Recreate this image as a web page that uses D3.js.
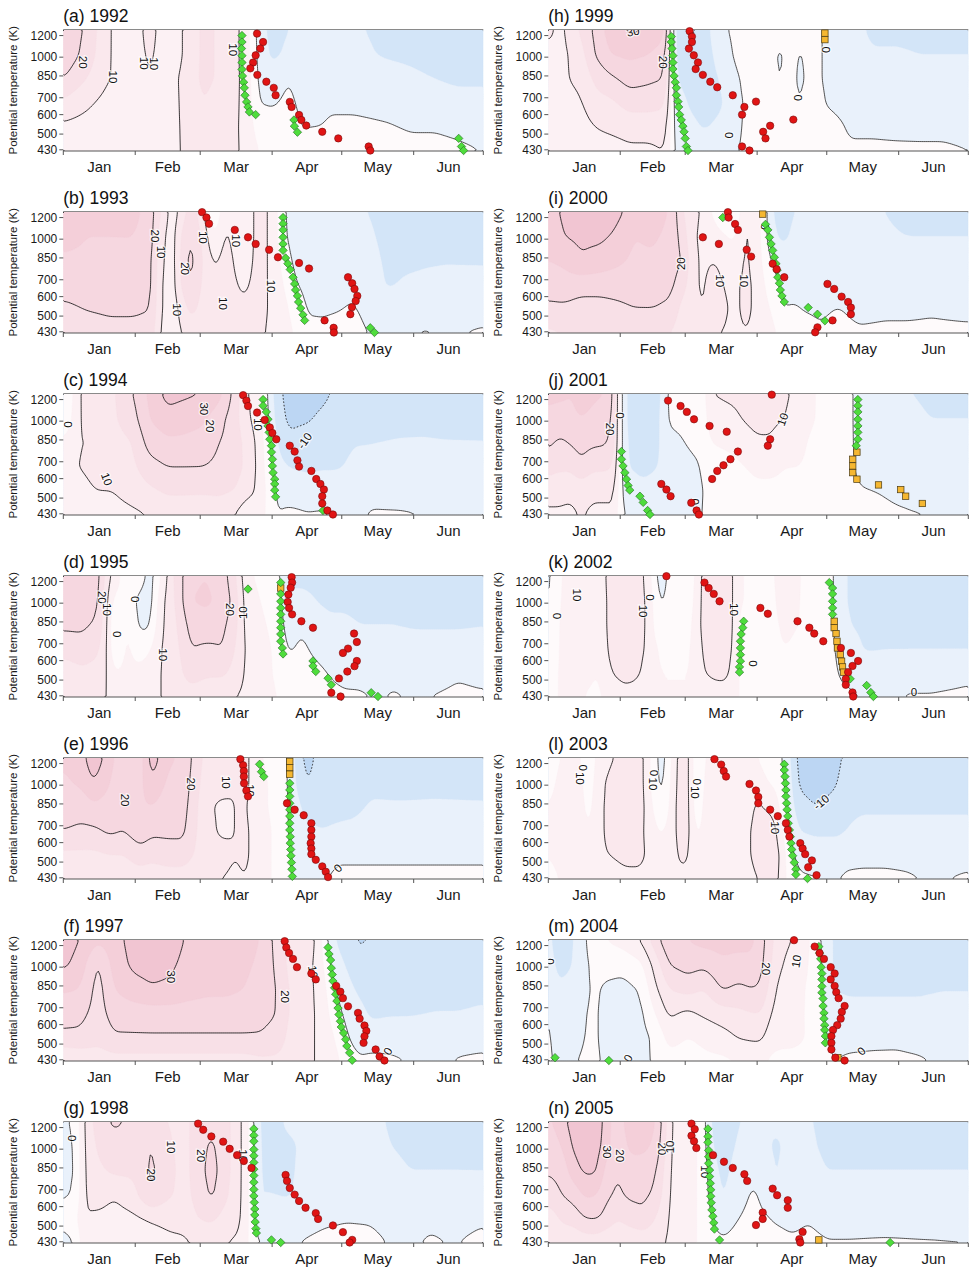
<!DOCTYPE html>
<html>
<head>
<meta charset="utf-8">
<script src="https://cdn.jsdelivr.net/npm/d3@7"></script>
<style>
  body { margin: 0; background: #fff; }
  svg text { font-family: "Liberation Sans", Arial, Helvetica, sans-serif; }
</style>
</head>
<body>
<svg id="chart" width="974" height="1273"></svg>
<script>
// ---------- shared axes ----------
const years = [1992, 1993, 1994, 1995, 1996, 1997, 1998, 1999, 2000, 2001, 2002, 2003, 2004, 2005];
const panelLetters = ["a", "b", "c", "d", "e", "f", "g", "h", "i", "j", "k", "l", "m", "n"];
const monthNames = ["Jan", "Feb", "Mar", "Apr", "May", "Jun"];
const monthStarts = [0, 31, 59, 90, 120, 151, 181];          // day of year
const thetaTicks = [430, 500, 600, 700, 850, 1000, 1200];     // K
const thetaRows = [1262, 1020, 830, 668, 537, 425];           // field rows, top to bottom
const fillLevels = [-10, -5, 0, 5, 10, 15, 20, 25, 30, 35];
const fillColors = ["#bcd6f3", "#d3e5f8", "#e9f1fb", "#fefafb", "#fcf1f4", "#fae8ed",
                    "#f8e0e7", "#f6d7e0", "#f4cfd9", "#f1c5d2", "#eebbca"];
const lineLevels = [-10, 0, 10, 20, 30];

// ---------- 1992 ----------
// field columns: [day, value at each of thetaRows]
const field1992 = [
  [0, 25,24,20,14,9,7], [10, 19,18,15,11,8,7], [20, 10,10,10,8,7,8], [30, 7,7,7,6,6,6],
  [37, 12,11,10,8,7,7], [43, 8,8,8,7,7,7], [50, 9,9,10,10,10,10], [60, 16,16,16,15,13,12],
  [70, 14,14,14,13,12,12], [76, 10,10,10,10,10,10], [80, 6,6,7,7,7,8], [84, -2,-1.5,-1,0,3,5],
  [90, -7,-6,-3,-0.5,2,3], [97, -5,-4,0,1,2,3], [103, -4,-4,-2,-1,-0.2,2], [111, -4,-4,-3,-1,0,2],
  [115, -4,-4,-2,-0.5,0.5,2], [125, -4.5,-4,-3,-1,1,2], [140, -6,-5.5,-3,-1.5,0.3,2],
  [150, -7,-6,-4,-2,-0.5,1.5], [160, -7,-7,-5,-2.5,-0.5,1.5], [170, -7,-7,-6,-3,-1,0.8],
  [180, -7,-7,-6,-3,-1.5,0]
];
const circles1992 = [[83.5,1220],[86.1,1137],[84.9,1076],[82.9,1016],[81.8,955],[80.6,908],[83.6,858],[87.5,808],[90.7,765],[91.5,716],[97.6,674],[98.4,644],[101.6,598],[102.6,571],[104.7,542],[111.6,511],[118.5,480],[131.6,444],[132.3,427]];
const diamonds1992 = [[77,1200],[77,1137],[76.8,1076],[77,1013],[77,955],[77,900],[77.2,850],[77.7,804],[78,765],[78.3,716],[79,674],[79.6,644],[80.2,615],[82.9,600],[99.4,571],[99.6,539],[100.9,509],[170.4,480],[171.6,444],[172.5,427]];
const squares1992 = [];
const labels1992 = [[8.6,958,"20",90],[21.5,843,"10",90],[34.7,950,"10",90],[39,945,"10",90],[73.2,1066,"10",90]];

// ---------- 1993 ----------
const field1993 = [
  [0, 30,27,24,22,19,16], [10, 26,25,24,22,20.3,17], [20, 26,25,24,23,21,18], [30, 27,25,24,23,21,18],
  [38, 22,22,21,21,20,18], [42, 15,12,11,10,10,9], [47, 7,7,7,7,7,7], [51, 12,16,17,16,12,10],
  [55, 18,21,22,21,17,12], [60, 12,14,15,14,13,11], [65, -1,5,9,11,11,10], [70, 10,11,12,12,12,11],
  [78, 6,6,7,9,11,12], [84, 12,12,12,12,12,11], [90, 9,9,9,9,9,9], [94, 2,2,4,6,8,9],
  [99, -3,-2,-0.7,0.6,3,5], [105, -4,-3,-2,-1,-0.3,0.8], [112, -4,-3,-2,-1,-0.3,0.5],
  [118, -4,-3,-2,-1,-0.2,1], [125, -4,-3,-2,-0.6,0.3,1.5], [131, -5,-4,-3,-2,-1,0],
  [140, -7,-6.5,-6,-5.5,-2,-1], [150, -7,-6.5,-6,-4,-2,-0.3], [155, -7,-6.5,-5.5,-4,-1.5,0.3],
  [165, -7,-6.5,-5.3,-3.5,-1.5,-0.2], [180, -7,-6.5,-5.5,-3,-1,0.3]
];
const circles1993 = [[59.8,1255],[61.7,1200],[62.8,1140],[73.9,1082],[79.6,1016],[82.9,960],[88.7,913],[92.5,855],[101.6,813],[105.9,774],[122.7,716],[124.5,678],[125.5,644],[126.7,604],[126,576],[124.4,544],[123.7,509],[112.6,480],[116.5,447],[116.6,427]];
const diamonds1993 = [[94.7,1200],[94.7,1140],[94.7,1082],[94.7,1016],[94.7,960],[94.7,908],[95.8,850],[96.8,808],[97.8,767],[99,716],[99.7,674],[100.1,638],[100.9,604],[101.4,571],[102.3,539],[103.3,506],[104,480],[132.3,447],[134.1,427]];
const squares1993 = [];
const labels1993 = [[39.5,1028,"20",90],[42.3,895,"10",90],[52.4,774,"20",90],[60.3,1016,"10",90],[74.6,987,"10",90],[68.9,563,"10",90],[48.8,531,"10",90],[89.7,661,"10",90]];

// ---------- 1994 ----------
const field1994 = [
  [0, -2,0,6,9,8,6], [7, 10,10,10,10,8,6], [14, 14,13,10,12,10,7], [21, 14,14,13,13,10,8],
  [30, 20,18,15,14,12,9], [37, 26,25,22,18,14,10], [45, 32,28,24,20,16,11], [52, 31,27,24,20,16,11],
  [60, 30,26,23,20,16,10], [67, 27,22,20,19,16,12], [74, 18,17,18,17,15,10], [79, 10,11,13,14,12,6],
  [84, 8,8,9,9,9,8], [88, 0,1,2,3,4,4], [92, -8,-7,-5,-3,-1,0], [97, -12,-11,-9,-5,-2,1],
  [105, -12,-10.5,-8,-6,-2,0.3], [112, -11,-9,-8,-5.5,-2,0.5], [118, -9,-8,-7,-5.5,-2,-0.5],
  [125, -9,-8,-5.2,-4,-2,-1], [133, -9,-8,-5,-4,-1.5,0.5], [145, -9,-7,-4.5,-3.5,-2,0.5],
  [155, -9,-6.5,-4.5,-3.5,-1.5,0], [165, -9,-7,-4.7,-3.5,-1.5,-0.5], [180, -9,-7,-4.8,-3.5,-1.5,0]
];
const circles1994 = [[77.5,1245],[78.9,1190],[79.6,1137],[83.5,1076],[86.8,1010],[89,947],[90.1,903],[91.8,855],[97.6,808],[99.7,767],[100.9,709],[101.6,670],[106.9,644],[109,598],[110.8,571],[112.3,542],[111.6,509],[111.6,475],[113.8,444],[116.2,427]];
const diamonds1994 = [[86.1,1200],[86.1,1140],[87.5,1082],[88.2,1016],[88.2,960],[88.7,908],[89,855],[89.7,808],[89.7,763],[90.1,716],[90.1,674],[90.4,634],[91.1,597],[91.1,571],[91.1,539],[91.5,506],[111.9,444]];
const squares1994 = [];
const labels1994 = [[2.2,973,"0",90],[18.7,597,"10",70],[60.5,1111,"30",90],[63.4,960,"20",90],[83.9,973,"10",90],[104,843,"-10",-55]];

// ---------- 1995 ----------
const field1995 = [
  [0, 22,22,21,17,12,10], [8, 24,23,21,18,14,11], [15, 22,21,19,16,13,11], [19, 12,10,10,10,10,10],
  [22, 8,3,-1,0,5,8], [27, 2,5,6,6,6,7], [33, 4,-2,-1,3,6,7], [37, -3,-3,-1,4,8,9],
  [42, 5,8,9,10,10,10], [48, 16,15,14,13,12,11], [55, 24,25,22,20,18,12], [62, 25,26,23,19,16,11],
  [69, 22,23,21,20,16,11], [74, 16,18,17,15,13,10], [79, 6,7,8,9,9,9], [85, 4,5,6,7,8,8],
  [90, 2,3,4,5,5,6], [94, 0,0.5,1,2,3,4], [97, -6,-4,-2,-0.5,2,4], [103, -6,-4,-0.5,0.8,2,3],
  [109, -6,-5,-3,-1,1,2], [115, -7,-6,-4,-2,-0.3,1], [121, -7,-6,-4,-2.5,-1,0.5],
  [128, -7,-6.5,-5,-3,-1,0.4], [136, -7,-6.5,-5,-3,-1.5,-0.3], [142, -7,-6.5,-5,-3,-1,0.4],
  [152, -7,-6.5,-5.5,-3,-1.5,-0.4], [160, -7,-6.5,-5.5,-3,-1.5,0.2], [170, -7,-6.5,-5.5,-3,-0.5,0.8],
  [180, -7,-6.5,-5.2,-3,-1,0.5]
];
const circles1995 = [[98.4,1245],[98.6,1190],[98,1140],[97,1076],[96.7,1010],[97.3,960],[98.6,908],[102.6,855],[107.6,808],[125.3,767],[126.5,711],[122.7,670],[120.5,644],[126.5,598],[125.5,570],[122.4,542],[118.8,508],[115.5,443],[119.5,427]];
const diamonds1995 = [[79.6,1127],[93.7,1190],[93.7,1082],[93.7,1016],[93.7,960],[93.7,908],[93.7,855],[93.7,808],[93.7,763],[93.7,716],[94.4,674],[94.7,638],[107.6,598],[107.6,571],[108.8,542],[114.1,509],[115.5,478],[132.7,443],[135.6,427]];
const squares1995 = [[93.7,1137]];
const labels1995 = [[16.5,1051,"20",90],[18.9,947,"10",90],[23,763,"0",90],[30.8,1035,"0",90],[43,634,"10",90],[71.7,947,"20",90],[77.5,921,"10",-90]];

// ---------- 1996 ----------
const field1996 = [
  [0, 26,24,22,20,14,11], [8, 28,26,22,19,14,11], [13, 34,30,24,19,14,11], [20, 27,25,23,21,15,11],
  [26, 21,21,21,20,15,11], [33, 22,23,24,23,18,12], [38, 33,30,25,21,17,11], [45, 26,24,22,21,18,12],
  [52, 24,23,22,21,18,12], [56, 19,18,17,16,15,11], [62, 13,12,11,12,12,10], [68, 12,12,9,9,12,10],
  [74, 10,10,10,10,10,9], [78, 13,12,11,11,11,10], [82, 7,8,8,9,9,9], [88, 4,5,5,6,6,6],
  [93, 2,3,3,3,3,3], [97, 0,0,0,0,0.3,0.5], [100, -6,-5,-3,-2,-1,-0.5], [105, -12,-10.5,-7,-4,-2,-1],
  [111, -8,-7,-6,-5,-2,-0.5], [118, -8,-7,-6,-4.5,-0.6,0.8], [125, -8,-7,-6,-4,-0.6,0.8],
  [133, -8,-6,-4.5,-3,-0.6,0.8], [145, -8,-6.5,-4.5,-3,-0.6,0.8], [160, -8,-6,-4.5,-3,-0.6,0.8],
  [180, -8,-6.5,-4.5,-3,-0.6,0.8]
];
const circles1996 = [[76.3,1245],[77.5,1184],[77.8,1127],[77.8,1076],[77.9,1016],[78.9,955],[79.6,908],[96.4,855],[99.7,808],[103.6,769],[106.9,716],[106.9,674],[106.9,634],[106.6,597],[106.9,568],[106.9,539],[108.8,511],[111.6,480],[113.1,456],[114.1,433]];
const diamonds1996 = [[84.6,1193],[85.4,1121],[86.4,1076],[97.6,1016],[97.6,960],[97.6,908],[97.6,855],[97.6,808],[97.6,763],[97.6,716],[97.6,674],[97.8,634],[97.8,597],[98,563],[98.1,531],[98.3,498],[98.5,467],[98.7,436]];
const squares1996 = [[97.6,1222],[97.6,1160],[97.6,1098]];
const labels1996 = [[26.5,879,"20",90],[55,1010,"20",90],[70.3,1025,"10",90],[80.3,955,"10",90],[118.4,472,"0",-45]];

// ---------- 1997 ----------
const field1997 = [
  [0, 33,31,26,21,19.5,9], [7, 30,28,25,21.5,19,11], [15, 26,19,18,18,17,12], [22, 28,27,25,22,19.5,13],
  [30, 32,31,28,22.5,19.5,13], [38, 33,32,29.5,23,19.5,13], [46, 33,31,29,23,19.5,13],
  [54, 29,28,27,23,19.5,13], [62, 28,27,26,23,19.5,13], [70, 27,27,26,23,19.5,13],
  [78, 27,26,25,23,19.5,13], [85, 25,24,23,22,19.5,14], [92, 18,19,20,20,18,14],
  [97, 14,14,15,15,14,13], [103, 13,12,12,12,12,12], [108, 11,10,10,10,10,10], [112, 4,6,8,9,9,9],
  [114, -0.5,1,3,5,7,8], [118, -6,-3,-0.5,1.5,4,6], [123, -8,-6,-4,-2,-0.2,2],
  [128, -11,-8,-6,-4,-2,0.5], [133, -9,-8,-6.5,-5.8,-3,1.5], [140, -8,-7.5,-6.5,-5.5,-2.5,1],
  [150, -8,-7.5,-6.5,-5.5,-2,-0.3], [160, -8,-7.5,-6,-5,-1.5,-0.5], [170, -8,-7.5,-6,-5,-1,0.2],
  [180, -8,-7,-6,-4.5,-1,0.5]
];
const circles1997 = [[95.4,1245],[96.1,1181],[97.3,1127],[99,1073],[100.7,1000],[106.9,947],[108.8,900],[117.6,850],[119.4,808],[120.5,763],[122.7,709],[127,668],[127.7,634],[129.8,595],[130.6,566],[129.8,538],[129.4,506],[134.6,475],[136.3,444],[138.4,427]];
const diamonds1997 = [[114.1,1181],[114.5,1118],[115.2,1063],[115.5,992],[115.9,939],[116.2,887],[116.9,836],[117.4,790],[117.9,744],[118.4,698],[118.8,658],[119.4,619],[119.8,587],[120.8,555],[121.7,523],[122.2,491],[123.4,460],[124.5,428]];
const squares1997 = [];
const labels1997 = [[46.6,921,"30",90],[95.4,774,"20",90],[107.6,960,"10",80],[139.9,467,"0",-60]];

// ---------- 1998 ----------
const field1998 = [
  [0, -1,-1.5,-1,-0.3,0.5,-1], [5, 1,0,-0.5,0.3,3,-0.3], [9, 10,10,10,10,10,9],
  [15, 18,16,14,12,9,8], [22, 21,18,16,10.5,8,7], [30, 19,17,16,13,9,8], [38, 16,20.5,21,20.5,10.5,8],
  [45, 15,16,17,16,11,9], [52, 13,13,13,13,12,9], [58, 18,18,18,17,15,11], [64, 19,21,22,21,16,11],
  [70, 17,17,17,16,13,10], [77, 10,10,10,10,10,9], [81, 3,3,3,3,3,3], [84, -5,-5,-5,-5,-3,0],
  [90, -7,-6,-5.5,-5,-2,-0.5], [97, -4,-6,-6,-5.5,-1.5,-0.3], [104, -4,-4,-3.5,-3,-1,0.2],
  [113, -4,-4,-3.5,-3,-0.5,0.8], [122, -4,-4,-3.5,-3,-0.2,1], [132, -4,-4,-4,-3,-0.3,0.8],
  [142, -5.5,-5,-4,-3,-1,-0.3], [150, -7,-6,-5,-3,-1.5,-0.5], [158, -7,-6,-5,-3,-0.8,0.5],
  [168, -7,-6,-5,-3,-1,-0.2], [180, -7,-6.5,-5,-3,-0.5,0.8]
];
const circles1998 = [[58.1,1240],[60.3,1178],[63.8,1114],[68.9,1066],[71.7,1003],[74.9,950],[77.8,903],[81.1,850],[95.8,799],[96.4,758],[97.6,711],[99.7,670],[101.6,632],[104.4,594],[108.8,565],[109.8,535],[116.2,503],[120.5,472],[124.5,438],[123.4,427]];
const diamonds1998 = [[82.1,1187],[82.1,1124],[82.1,1070],[82.1,997],[82.1,945],[82.1,892],[82.1,841],[82.1,795],[82.1,749],[82.1,702],[82.1,662],[82.3,624],[82.5,587],[82.5,555],[82.7,520],[83,488],[83.2,468],[89.7,438],[93.7,427]];
const squares1998 = [];
const labels1998 = [[3.6,1098,"0",90],[46.6,1019,"10",90],[38,799,"20",90],[59.5,945,"20",90],[77.5,945,"10",90]];

// ---------- 1999 ----------
const field1999 = [
  [0, 11,9,8,7,6,6], [5, 9,9,9,8,7,6], [9, 11,10,10,9,8,7], [14, 16,13,11,9.5,8,7],
  [20, 21,20,16,13,10,8], [27, 28,25,19,14,11,8], [35, 31,26,22,17,12,9], [43, 30,25,21,17,12,9],
  [50, 27,22,20,16,12,10], [52, 18,15,13,11,9,8], [54, -6,-5,-4,-3,-2,-1], [58, -9,-8,-6,-4,-3,-2],
  [62, -11,-10.5,-7,-6,-4,-2], [67, -7,-7,-7,-6.5,-5.5,-2], [75, -1,-3,-4.5,-5.5,-4,-1],
  [80, 1,0.5,-1,-1.5,-1,-0.3], [85, 2,2,1,0.5,0.5,0.5], [95, 1,1,1,1,1,1], [100, 1,-0.5,-0.3,1,1,1],
  [104, 1,1,1,1,1,1], [108, 1,-0.3,-0.5,-0.2,1,1], [115, 1,1,1,1.5,1,1], [121, -1,-1,-1,-0.5,1.5,1.5],
  [130, -3,-3,-2,-1.5,-0.5,0.5], [140, -6,-4.5,-3,-2,-0.5,0.5], [150, -6,-4.5,-3,-2,-0.7,0.5],
  [160, -6,-5,-3.5,-2,-0.8,0.5], [170, -6,-5,-3.5,-2,-0.8,0.5], [180, -6,-5,-3.5,-2,-1,0.1]
];
const circles1999 = [[60.9,1245],[61.9,1190],[61.9,1137],[60.6,1076],[62.7,1016],[64.5,955],[63.5,903],[66.6,858],[69.8,808],[72.8,769],[79.5,716],[84.5,644],[83.5,600],[89.5,676],[95.6,541],[92.6,511],[93.6,480],[105.6,573],[83.5,444],[86.7,427]];
const diamonds1999 = [[53,1190],[53,1137],[53.3,1076],[53.7,1013],[53.7,955],[53.7,903],[54.2,850],[54.7,804],[55.2,765],[55.2,716],[55.9,676],[56.2,644],[56.6,600],[57.3,571],[58,539],[58.5,511],[59,480],[59.5,444],[60.2,427]];
const squares1999 = [[119.2,1225],[119.2,1160]];
const labels1999 = [[36.5,1240,"30",-10],[49.4,958,"20",90],[78,495,"0",90],[107.4,700,"0",90],[119.6,1066,"0",90]];

// ---------- 2000 ----------
const field2000 = [
  [0, 28,27,25,22,19,14], [7, 31,30,26,23,19,15], [14, 34,31,29.5,22,18,15], [22, 33,31,28,22,18,15],
  [30, 31,29,26,22,19,15], [37, 28,25,24,22,20,15], [45, 29,26,24,22,20,16], [53, 24,23,22,21,19,15],
  [58, 15,18,20,17,13,11], [62, 11,11,12,12,11,10], [66, 10,9,9,9,10,10], [71, 4,8,10,12,11,10],
  [75, 0,6,9,10,11,10], [80, -1,4,7,9,9,9], [85, 10,11,11,11,11,10], [90, 8,8,8,9,9,9],
  [94, 1,0,2,4,6,8], [97, -6,-4,-1,2,4,6], [101, -7,-6,-3,-1,0,3], [106, -5,-4,-2,-1,0.3,2],
  [111, -4,-3.5,-2,-1,-0.3,1.5], [117, -4,-3.5,-2.5,-1.5,-0.5,0.4], [125, -4,-4,-3,-1.5,0.1,1],
  [134, -4.5,-4,-3,-2,-0.8,0.4], [145, -5,-4.5,-3,-2,-0.5,0.5], [155, -6,-5,-3.5,-2,-0.5,0.5],
  [165, -6,-5,-3.5,-2,-0.3,0.5], [180, -6,-5,-3.5,-2,-0.6,0.5]
];
const circles2000 = [[77.4,1255],[77.7,1200],[80.5,1137],[81.7,1082],[66.6,1016],[73.5,960],[85.5,913],[87.4,860],[96.7,808],[98.4,769],[101.7,716],[120.3,674],[123.2,644],[126.4,600],[129.2,571],[130.4,542],[130.4,509],[122.5,480],[116,449],[115,428]];
const diamonds2000 = [[75.2,1200],[93.6,1134],[94.6,1082],[95.3,1016],[96,960],[96.7,908],[97.4,855],[98.1,808],[98.6,763],[98.9,716],[99.6,678],[100,638],[100.7,604],[101.7,571],[112,542],[116,509],[119.2,478]];
const squares2000 = [[92.4,1235]];
const labels2000 = [[57.3,808,"20",-90],[73.8,694,"10",90],[84.5,694,"10",90],[93.6,1111,"0",90]];

// ---------- 2001 ----------
const field2001 = [
  [0, 26,24,21,17,12,9], [5, 26,23,19,16,11,9.5], [10, 25,24,20.5,16,11,9], [14, 27,25,22,19,12,10.5],
  [19, 26,24,21,16,11,9], [25, 25,22,20.5,16,11,9], [29, 18,18,17,14,11,9], [31, 0,0,0,0,0,0],
  [34, -6,-6,-5.5,-5,-2,0], [40, -7,-7,-6.5,-6,-4,-1], [47, -8,-7,-6.5,-5,-4,-1],
  [51, 0.5,0.2,-1,-4,-4,-2], [57, 2,1,-0.5,-3,-3,-1.5], [62, 2,1.5,1,-1,-2,-1], [66, 1,1,1,0.2,-0.5,-0.3],
  [70, 10,8,5,3,2,2], [80, 11,9,6,4,3,2], [90, 13,12,9,6,4,3], [96, 13,11,9.5,6,4,3],
  [102, 11,10,7,5,4,3], [108, 8,7,6,5,4,3], [115, 5,5,4,4,3,3], [122, 3,3,3,3,3,3], [127, 2,2,2,2,2,2],
  [131, 0.5,0.5,0.5,0.5,1,1.5], [135, -3,-3,-2.5,-1.5,0.3,1], [142, -4,-3.5,-3,-2,-0.1,1],
  [150, -5,-4,-3,-2,-0.7,0.5], [157, -5,-4,-3,-2,-1,0.2], [165, -6,-5,-3.5,-2.5,-1,0], [180, -6,-5,-3.5,-2.5,-1,0.1]
];
const circles2001 = [[51.6,1190],[57,1137],[59.7,1082],[62.8,1016],[69.5,960],[76.9,913],[81.7,767],[78.5,716],[75.5,678],[72.8,644],[70.6,598],[48.7,571],[50.9,542],[52.7,509],[61.6,478],[63.9,444],[64.9,427],[96.3,1250],[95.6,855],[94.6,808]];
const diamonds2001 = [[31.5,767],[31.5,716],[32.2,674],[33,634],[33.7,597],[34.4,563],[35.1,539],[39.5,509],[40.9,480],[42.8,444],[43.8,427],[133.4,1200],[133.4,1140],[133.4,1082],[133.4,1016],[133.4,960],[133.4,908],[133.4,855],[132.7,808]];
const squares2001 = [[133,763],[131.2,716],[131.2,674],[131.2,634],[133,597],[142.3,566],[151.9,542],[154,509],[161.2,475]];
const labels2001 = [[26.5,934,"20",90],[30.8,1051,"0",90],[101,1016,"10",-70],[63.3,483,"0",90]];

// ---------- 2002 ----------
const field2002 = [
  [0, -1,-1,-0.5,1,3,4], [5, 3,4,5,5,5,5], [9, 10,10,10,10,10,8], [15, 6,7,7,7,6,5],
  [22, 5,5,5,5,5,4], [27, 14,13,13,12,10,8], [33, 15,14,14,13,11,9], [38, 13,13,13,12,11,8],
  [43, 8,9,9,9,8,6], [48, -3,-1,0.5,4,5,5], [53, 2,2,3,4,5,5], [57, -0.5,-0.5,1,4,5,5],
  [62, 3,4,5,5,5,5], [67, 12,12,12,11,10,7], [72, 14,14,14,13,11,8], [77, 13,13,13,12,11,8],
  [81, 8,8,8,8,7,6], [85, 4,4,-0.5,-0.5,1,3], [90, 3,3,2,1,2,3], [97, 4,4,4,4,4,3],
  [102, 10.5,8,6,5,4,3], [108, 5,5,5,4,4,3], [116, 3,3,3,3,3,3], [122, 1,1,1,1,1.5,2],
  [125, -2,-2,-1.5,-1,-0.3,1], [130, -6,-6,-5,-3,-1,0.5], [137, -7,-7,-6,-5.5,-1.5,-0.3],
  [145, -7,-7,-6,-5.2,-1.5,-0.5], [155, -7,-7,-6,-5.2,-1,0.2], [165, -7,-7,-6,-5.2,-1,0.2],
  [180, -7,-7,-6,-5.2,-0.5,0.4]
];
const circles2002 = [[50.9,1255],[67.3,1190],[69.1,1137],[71.3,1082],[73.8,1016],[91.4,960],[94.6,913],[107.4,855],[112.5,808],[114.6,767],[118.5,716],[126.1,674],[130.4,644],[133.5,598],[131.1,571],[129.2,539],[128.2,506],[128.2,478],[131.1,444],[131.4,427]];
const diamonds2002 = [[84.2,855],[83.8,808],[83.1,763],[82.8,716],[82.8,674],[82.8,634],[82.8,597],[82.4,566],[82.4,539],[121.1,1190],[122.5,1137],[122.5,1082],[122.5,1016],[122.5,960],[122.5,908],[130.1,506],[137.2,475],[139,444],[140.1,427]];
const squares2002 = [[123.2,855],[123.2,808],[124,767],[124.4,716],[124.6,674],[125.8,634],[126.4,597],[126.8,566],[127.2,539]];
const labels2002 = [[3.6,895,"0",90],[12.2,1073,"10",90],[40.8,934,"10",90],[43.7,1051,"0",90],[80.2,947,"10",90],[88.1,585,"0",90],[157.6,444,"0",0]];

// ---------- 2003 ----------
const field2003 = [
  [0, -0.5,2,5,5,5,3], [5, 5,7,8,8,7,5], [10, 8,9,10,9,8,10], [14, 6,8,9,9,9,9], [17, -3,-1,1,5,8,9],
  [20, 6,7,8,8,9,9], [26, 9,11,11,11,10,8], [33, 12,13,13,12,11,9], [40, 12,12,12,11,11,9],
  [45, 3,3,5,7,8,8], [49, -3,-2,-0.5,4,7,8], [53, 5,6,7,8,8,9], [57, 13,13,13,12,11,9],
  [61, 11,11,11,11,10,9], [64, -2,-2,-0.5,3,6,8], [67, 5,6,7,7,7,7], [72, 7,8,8,8,8,7],
  [80, 6,7,8,8,8,7], [86, 8,8,8,9,9,8], [90, 5,7,11,12,12,10], [95, 3,5,9,13,13,11],
  [98, 2,4,8,11,12,11], [100, 1,2,4,7,10,10], [104, -4,-3,-2,0,1,2], [108, -12,-11,-8,-5,-1,0.5],
  [115, -13,-12,-10,-6,-2,0.3], [121, -12,-11,-9,-6,-2,-0.3], [125, -11,-10,-8.5,-6,-2,0],
  [128, -9,-8,-6,-5,-1,0.5], [135, -8,-7,-5.5,-4,-1,0.8], [145, -8,-7,-5.5,-4,-1,0.8],
  [155, -8,-7,-5.5,-4,-1,0.4], [165, -8,-7,-5.5,-4,-1.5,-0.3], [180, -8,-7,-5.5,-4,-1,0.4]
];
const circles2003 = [[71.6,1245],[74.5,1190],[75.6,1127],[76.6,1076],[86.7,1010],[89.5,955],[90.5,903],[90.5,855],[95.6,808],[98.9,763],[102.4,716],[103.2,674],[103.9,634],[108.6,597],[109.6,568],[110.7,539],[113.6,508],[112,476],[115.6,441]];
const diamonds2003 = [[101.7,1193],[101.7,1137],[102,1076],[102.2,1016],[102.4,960],[102.4,908],[102.7,855],[102.9,808],[103.2,763],[103.4,716],[103.9,674],[104.3,634],[104.6,597],[104.9,563],[105.3,531],[106,498],[106.7,467],[106.7,444],[111.7,427]];
const squares2003 = [];
const labels2003 = [[13.6,1060,"10",90],[14.8,1160,"0",90],[45.2,1010,"10",90],[45.5,1110,"0",90],[63.4,940,"10",90],[64.1,1030,"0",90],[97.6,688,"10",90],[117.6,863,"-10",-40]];

// ---------- 2004 ----------
const field2004 = [
  [0, -1,-0.5,0,0.5,0.5,0.5], [4, -10.5,-7,-4,-2,-1,-0.5], [10, -5.5,-5.2,-3.5,-2,-1,-0.3],
  [15, -2,-2,-1.5,-0.5,-0.2,0.3], [20, 5,2,1,1,1,1], [25, 5,2,-1,-2,-2,-1], [32, 7,1.5,-1.5,-2,-2,-1],
  [40, 10.5,4,0.5,-1,-1.5,-1], [46, 18,12,9,5,1,0.5], [52, 24,20,15,11,7,3], [60, 25,22,17,9,5,3],
  [67, 27,21,15,11,6,4], [75, 27,24,20.5,13,8,4], [82, 27,23,19,14,10.5,5], [88, 26,24,20,15,11,6],
  [92, 22,21,19,15,11,6], [96, 16,15,13,10,7,4], [100, 12,10.5,8,7,6,4], [105, 10,8,7,6,6,4],
  [111, 7,6,5,5,5,4], [116, 1,1.5,2,2.5,3,3], [119, -1,-0.8,-0.5,-0.2,0.5,1], [123, -6,-6,-5,-4,-1,0],
  [130, -6,-6,-5.5,-4,-1,0.5], [140, -6,-6,-5.5,-4,-0.8,0.6], [150, -6.5,-6,-5.5,-4,-0.7,0.6],
  [160, -6.5,-6,-5.5,-4,-1,0.3], [170, -6.5,-6,-5.2,-3.5,-1.5,-0.3], [180, -6.5,-6,-5.2,-3.5,-1.3,-0.1]
];
const circles2004 = [[105.9,1255],[114.8,1190],[116.9,1127],[118.8,1073],[121.7,1000],[123.4,947],[121.7,900],[123.4,850],[124.1,804],[125.1,763],[127.7,711],[126.5,674],[126,634],[124.5,597],[122.7,571],[122,539],[122,506],[122,475],[123.7,439],[127.7,427]];
const diamonds2004 = [[2.9,439],[26.1,427],[116.6,1190],[116.9,1127],[117.4,1073],[117.6,1000],[117.9,947],[117.9,900],[117.9,847],[117.9,801],[118.4,760],[118.4,711],[118.8,668],[118.8,634],[119.1,597],[119.1,571],[119.4,539],[119.4,506]];
const squares2004 = [[124.8,439]];
const labels2004 = [[0.7,1051,"0",90],[94,987,"20",90],[106.9,1051,"10",-80],[34.4,437,"0",-60],[134.9,467,"0",-45]];

// ---------- 2005 ----------
const field2005 = [
  [0, 24,22,20.5,17,12,9.5], [6, 28,25,22,20,16,11], [11, 33,31,28,22,17,11], [16, 35,33,31,26,20,12],
  [21, 34,32,30.5,25,20.3,12], [25, 27,27,23,21,18,11], [30, 22,21,20,19,15,11], [35, 28,26,23,21,17,11],
  [41, 28,26,23,21,19,11], [46, 26,24,21,19,15,11], [51, 15,14,13,12,11,10], [55, 7,7,7,7,7,7],
  [59, 10,10,10,10,10,10], [63, 6,6,6,6,6,6], [67, 2,2,2,2,2,2], [70, -5,-4,-2,-1,0.5,2],
  [75, -10.5,-8,-6.5,-5.5,-3,1], [80, -6,-5,-4,-3,-0.5,1.5], [86, -4,-3,-1.5,0,1,1.5],
  [89, -4,-3,-0.7,0.5,1,1.5], [92, -5,-4,-2,-0.7,0.5,1], [98, -4.5,-5.5,-5.5,-2,-0.3,1],
  [105, -4.5,-4,-3,-2,-0.8,0.5], [112, -4.5,-4,-3,-2,-0.2,0.8], [120, -6.5,-6,-5,-3,-1,0.2],
  [130, -6.5,-6,-5,-3,-1,0.2], [145, -6.5,-6,-5,-3,-1,0.3], [160, -6.5,-6,-5,-3,-1,0.2],
  [180, -6.5,-6,-5,-3,-1,0.1]
];
const circles2005 = [[61.7,1240],[63.1,1184],[61.7,1121],[62.8,1070],[63.8,1010],[71,950],[75.7,897],[79.5,850],[84.5,804],[85.7,758],[96.7,707],[98.6,666],[103.2,636],[103.2,594],[92.4,568],[92.4,535],[89.5,505],[109.6,473],[108.2,441],[108.6,427]];
const diamonds2005 = [[68.8,1187],[68.8,1114],[68.8,1060],[69.1,990],[69.1,937],[69.1,885],[69.5,834],[69.5,788],[69.8,742],[70,700],[70,660],[70.2,622],[70.5,582],[70.9,549],[71.3,516],[71.6,486],[73.8,438],[147.3,427]];
const squares2005 = [[116.6,438]];
const labels2005 = [[25.1,976,"30",90],[30.8,945,"20",90],[48.8,1003,"20",90],[52.4,1019,"10",-90],[67.4,822,"10",90]];

// ---------- assemble panels ----------
const panelSets = [
  [field1992, circles1992, diamonds1992, squares1992, labels1992],
  [field1993, circles1993, diamonds1993, squares1993, labels1993],
  [field1994, circles1994, diamonds1994, squares1994, labels1994],
  [field1995, circles1995, diamonds1995, squares1995, labels1995],
  [field1996, circles1996, diamonds1996, squares1996, labels1996],
  [field1997, circles1997, diamonds1997, squares1997, labels1997],
  [field1998, circles1998, diamonds1998, squares1998, labels1998],
  [field1999, circles1999, diamonds1999, squares1999, labels1999],
  [field2000, circles2000, diamonds2000, squares2000, labels2000],
  [field2001, circles2001, diamonds2001, squares2001, labels2001],
  [field2002, circles2002, diamonds2002, squares2002, labels2002],
  [field2003, circles2003, diamonds2003, squares2003, labels2003],
  [field2004, circles2004, diamonds2004, squares2004, labels2004],
  [field2005, circles2005, diamonds2005, squares2005, labels2005]
];

// ---------- layout ----------
const colLeft = [63.3, 548.3];
const plotW = 420;
const plotH = 121.5;
const firstTop = 29.5;
const rowStep = 182;
const NX = 210, NY = 61;

const svg = d3.select("#chart");
const defs = svg.append("defs");

function boxBlur(src, w, h, r) {
  const tmp = new Float64Array(w * h), out = new Float64Array(w * h);
  for (let j = 0; j < h; j++) for (let i = 0; i < w; i++) {
    let s = 0, n = 0;
    for (let k = -r; k <= r; k++) { const ii = Math.min(w - 1, Math.max(0, i + k)); s += src[j * w + ii]; n++; }
    tmp[j * w + i] = s / n;
  }
  for (let j = 0; j < h; j++) for (let i = 0; i < w; i++) {
    let s = 0, n = 0;
    for (let k = -r; k <= r; k++) { const jj = Math.min(h - 1, Math.max(0, j + k)); s += tmp[jj * w + i]; n++; }
    out[j * w + i] = s / n;
  }
  return out;
}

// resample a field table onto a fine pixel grid for contouring
function sampleField(field, x, y, left, top) {
  const days = field.map(c => c[0]);
  const rowY = thetaRows.map(t => y(t));
  const cw = plotW / NX, ch = plotH / NY;
  let vals = new Float64Array(NX * NY);
  const bis = d3.bisector(d => d).right;
  for (let j = 0; j < NY; j++) {
    const py = top + (j + 0.5) * ch;
    let r = 0;
    while (r < rowY.length - 2 && py > rowY[r + 1]) r++;
    const ry = Math.max(0, Math.min(1, (py - rowY[r]) / (rowY[r + 1] - rowY[r])));
    for (let i = 0; i < NX; i++) {
      const d = x.invert(left + (i + 0.5) * cw);
      let c = Math.max(0, Math.min(days.length - 2, bis(days, d) - 1));
      const cx = Math.max(0, Math.min(1, (d - days[c]) / (days[c + 1] - days[c])));
      const a = field[c], b = field[c + 1];
      const top0 = a[1 + r] * (1 - cx) + b[1 + r] * cx;
      const bot0 = a[2 + r] * (1 - cx) + b[2 + r] * cx;
      vals[j * NX + i] = top0 * (1 - ry) + bot0 * ry;
    }
  }
  vals = boxBlur(vals, NX, NY, 2);
  vals = boxBlur(vals, NX, NY, 1);
  return vals;
}

function ringsToPath(mp, left, top) {
  const cw = plotW / NX, ch = plotH / NY;
  let s = "";
  for (const poly of mp.coordinates) for (const ring of poly) {
    s += "M" + ring.map(p => (left + p[0] * cw).toFixed(2) + "," + (top + p[1] * ch).toFixed(2)).join("L") + "Z";
  }
  return s;
}

// keep only the interior parts of contour rings (drop the stretches along the grid border)
function isoLines(mp) {
  const out = [];
  for (const poly of mp.coordinates) for (const ring of poly) {
    let cur = [];
    for (let k = 0; k < ring.length - 1; k++) {
      const a = ring[k], b = ring[k + 1];
      const edge = (a[0] === 0 && b[0] === 0) || (a[0] === NX && b[0] === NX) ||
                   (a[1] === 0 && b[1] === 0) || (a[1] === NY && b[1] === NY);
      if (edge) { if (cur.length > 1) out.push(cur); cur = []; }
      else { if (!cur.length) cur.push(a); cur.push(b); }
    }
    if (cur.length > 1) out.push(cur);
  }
  return out;
}

panelSets.forEach((set, idx) => {
  const [field, circles, diamonds, squares, labels] = set;
  const col = idx < 7 ? 0 : 1;
  const row = idx % 7;
  const left = colLeft[col];
  const top = firstTop + row * rowStep;
  const bottom = top + plotH;
  const cw = plotW / NX, ch = plotH / NY;

  const x = d3.scaleLinear().domain([0, 181]).range([left, left + plotW]);
  const y = d3.scalePow().exponent(0.15).domain([425, 1262]).range([bottom, top]);

  const g = svg.append("g");
  const clipId = "clip" + idx;
  defs.append("clipPath").attr("id", clipId)
    .append("rect").attr("x", left).attr("y", top).attr("width", plotW).attr("height", plotH);
  const plot = g.append("g").attr("clip-path", `url(#${clipId})`);

  // filled bands
  const vals = sampleField(field, x, y, left, top);
  plot.append("rect").attr("x", left).attr("y", top).attr("width", plotW).attr("height", plotH)
    .attr("fill", fillColors[0]);
  const bands = d3.contours().size([NX, NY]).thresholds(fillLevels)(vals);
  bands.forEach((b, k) => {
    plot.append("path").attr("d", ringsToPath(b, left, top))
      .attr("fill", fillColors[k + 1]).attr("stroke", fillColors[k + 1]).attr("stroke-width", 0.3);
  });

  // contour lines
  const line = d3.line().x(p => left + p[0] * cw).y(p => top + p[1] * ch).curve(d3.curveLinear);
  lineLevels.forEach(lv => {
    const mp = d3.contours().size([NX, NY]).contour(vals, lv);
    isoLines(mp).forEach(pl => {
      plot.append("path").attr("d", line(pl)).attr("fill", "none")
        .attr("stroke", lv === 0 ? "#333" : "#151515")
        .attr("stroke-width", 0.85)
        .attr("stroke-dasharray", lv < 0 ? "1.6,1.8" : null);
    });
  });

  // contour labels
  labels.forEach(([d, t, txt, ang]) => {
    plot.append("text")
      .attr("transform", `translate(${x(d)},${y(t)}) rotate(${ang})`)
      .attr("text-anchor", "middle").attr("dominant-baseline", "central")
      .attr("font-size", 11.5).attr("fill", "#111")
      .attr("stroke", "rgba(255,255,255,0.7)").attr("stroke-width", 2.6)
      .attr("paint-order", "stroke")
      .text(txt);
  });

  // frame
  g.append("line").attr("x1", left).attr("x2", left + plotW).attr("y1", top).attr("y2", top)
    .attr("stroke", "#8a8a8a").attr("stroke-width", 1);
  g.append("line").attr("x1", left).attr("x2", left + plotW).attr("y1", bottom).attr("y2", bottom)
    .attr("stroke", "#555").attr("stroke-width", 1);

  // x axis: month boundaries and centered month names
  monthStarts.forEach(d => {
    g.append("line").attr("x1", x(d)).attr("x2", x(d)).attr("y1", bottom).attr("y2", bottom + 4)
      .attr("stroke", "#555").attr("stroke-width", 1);
  });
  monthNames.forEach((m, k) => {
    g.append("text").attr("x", x((monthStarts[k] + monthStarts[k + 1]) / 2)).attr("y", bottom + 21)
      .attr("text-anchor", "middle").attr("font-size", 15).attr("fill", "#1a1a1a").text(m);
  });

  // y axis
  thetaTicks.forEach(t => {
    g.append("line").attr("x1", left - 4).attr("x2", left).attr("y1", y(t)).attr("y2", y(t))
      .attr("stroke", "#555").attr("stroke-width", 1);
    g.append("text").attr("x", left - 6).attr("y", y(t)).attr("text-anchor", "end")
      .attr("dominant-baseline", "central").attr("font-size", 12).attr("fill", "#1a1a1a").text(t);
  });
  g.append("text")
    .attr("transform", `translate(${left - 46},${(top + bottom) / 2}) rotate(-90)`)
    .attr("text-anchor", "middle").attr("font-size", 11.5).attr("fill", "#1a1a1a")
    .text("Potential temperature (K)");

  // panel title
  g.append("text").attr("x", left).attr("y", top - 8).attr("font-size", 17.5).attr("fill", "#111")
    .text(`(${panelLetters[idx]}) ${years[idx]}`);

  // markers
  const mk = g.append("g");
  squares.forEach(([d, t]) => {
    mk.append("rect").attr("x", x(d) - 3.2).attr("y", y(t) - 3.2).attr("width", 6.4).attr("height", 6.4)
      .attr("fill", "#f5b731").attr("stroke", "#4a3a10").attr("stroke-width", 0.7);
  });
  diamonds.forEach(([d, t]) => {
    const cx = x(d), cy = y(t), r = 4.2;
    mk.append("path").attr("d", `M${cx},${cy - r}L${cx + r},${cy}L${cx},${cy + r}L${cx - r},${cy}Z`)
      .attr("fill", "#4fdc3c").attr("stroke", "#1d6a1d").attr("stroke-width", 0.6);
  });
  circles.forEach(([d, t]) => {
    mk.append("circle").attr("cx", x(d)).attr("cy", y(t)).attr("r", 3.7)
      .attr("fill", "#e01414").attr("stroke", "#7a0a0a").attr("stroke-width", 0.6);
  });
});
</script>
</body>
</html>
